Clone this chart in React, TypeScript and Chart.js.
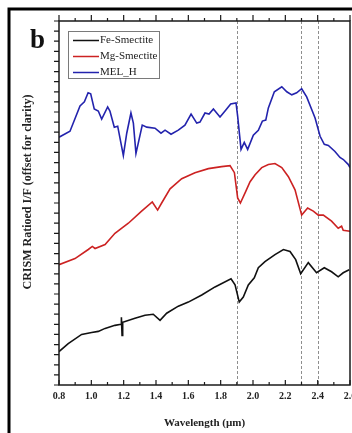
import { useEffect, useRef } from 'react';
import { Chart, registerables } from 'chart.js';

Chart.register(...registerables);

// Wavelength (µm), ratioed I/F (offset units)
const feSmectite: [number, number][] = [
  [0.80, 0.33], [0.857, 0.41], [0.94, 0.50], [1.002, 0.52], [1.043, 0.53], [1.085, 0.56],
  [1.146, 0.59], [1.184, 0.60], [1.186, 0.67], [1.190, 0.49], [1.194, 0.62], [1.27, 0.66],
  [1.332, 0.69], [1.383, 0.70], [1.425, 0.64], [1.466, 0.71], [1.538, 0.78], [1.60, 0.82],
  [1.683, 0.89], [1.765, 0.97], [1.864, 1.05], [1.889, 0.99], [1.915, 0.82], [1.94, 0.87],
  [1.971, 0.99], [2.008, 1.06], [2.033, 1.16], [2.074, 1.22], [2.136, 1.29], [2.188, 1.34],
  [2.229, 1.32], [2.264, 1.24], [2.295, 1.10], [2.342, 1.21], [2.393, 1.11], [2.441, 1.16],
  [2.486, 1.12], [2.527, 1.07], [2.558, 1.11], [2.595, 1.14],
];

const mgSmectite: [number, number][] = [
  [0.80, 1.19], [0.899, 1.25], [0.981, 1.34], [1.006, 1.37], [1.023, 1.35], [1.085, 1.39],
  [1.146, 1.50], [1.229, 1.60], [1.311, 1.72], [1.377, 1.81], [1.41, 1.73], [1.435, 1.80],
  [1.487, 1.94], [1.559, 2.04], [1.641, 2.10], [1.724, 2.14], [1.806, 2.16], [1.858, 2.17],
  [1.885, 2.10], [1.905, 1.85], [1.922, 1.80], [1.951, 1.90], [1.982, 2.01], [2.013, 2.08],
  [2.054, 2.15], [2.095, 2.18], [2.136, 2.19], [2.178, 2.15], [2.219, 2.06], [2.26, 1.93],
  [2.301, 1.68], [2.338, 1.75], [2.373, 1.72], [2.404, 1.68], [2.435, 1.68], [2.486, 1.62],
  [2.527, 1.55], [2.548, 1.57], [2.558, 1.53], [2.60, 1.52],
];

const melH: [number, number][] = [
  [0.80, 2.45], [0.868, 2.51], [0.93, 2.76], [0.957, 2.80], [0.98, 2.89], [0.996, 2.88],
  [1.018, 2.73], [1.043, 2.71], [1.064, 2.63], [1.101, 2.75], [1.115, 2.71], [1.142, 2.55],
  [1.163, 2.56], [1.198, 2.27], [1.219, 2.49], [1.245, 2.69], [1.26, 2.59], [1.276, 2.29],
  [1.29, 2.39], [1.315, 2.57], [1.343, 2.55], [1.394, 2.54], [1.431, 2.49], [1.456, 2.52],
  [1.493, 2.48], [1.538, 2.52], [1.579, 2.57], [1.617, 2.68], [1.652, 2.59], [1.672, 2.60],
  [1.703, 2.69], [1.728, 2.68], [1.755, 2.73], [1.796, 2.65], [1.827, 2.71], [1.862, 2.78],
  [1.895, 2.79], [1.905, 2.66], [1.926, 2.33], [1.946, 2.40], [1.967, 2.33], [2.002, 2.47],
  [2.033, 2.52], [2.058, 2.61], [2.079, 2.62], [2.095, 2.74], [2.132, 2.90], [2.178, 2.95],
  [2.209, 2.90], [2.24, 2.87], [2.27, 2.89], [2.301, 2.93], [2.332, 2.85], [2.384, 2.64],
  [2.415, 2.46], [2.441, 2.38], [2.466, 2.37], [2.507, 2.31], [2.538, 2.25], [2.559, 2.23],
  [2.59, 2.18], [2.60, 2.15],
];

const seriesNames = ['Fe-Smectite', 'Mg-Smectite', 'MEL_H'];
const seriesColors = ['#111111', '#cc2222', '#2323ad'];
const seriesData = [feSmectite, mgSmectite, melH];

const markerLines = [1.9, 2.3, 2.4];
const xMin = 0.8;
const xMax = 2.6;
const yMin = 0;
const yMax = 3.6;
const xTitle = 'Wavelength (µm)';
const yTitle = 'CRISM Ratioed I/F (offset for clarity)';
const panelLabel = 'b';

const SERIF = '"Liberation Serif", "DejaVu Serif", serif';

const decorPlugin = {
  id: 'decor',
  beforeDraw(chart: any) {
    const { ctx, width, height } = chart;
    ctx.save();
    ctx.fillStyle = '#ffffff';
    ctx.fillRect(0, 0, width, height);
    ctx.restore();
  },
  beforeDatasetsDraw(chart: any) {
    const { ctx, chartArea: a, scales } = chart;
    ctx.save();
    ctx.strokeStyle = '#8e8e8e';
    ctx.lineWidth = 1;
    ctx.setLineDash([3, 2]);
    for (const w of markerLines) {
      const px = Math.round(scales.x.getPixelForValue(w)) + 0.5;
      ctx.beginPath();
      ctx.moveTo(px, a.top);
      ctx.lineTo(px, a.bottom);
      ctx.stroke();
    }
    ctx.restore();
  },
  afterDatasetsDraw(chart: any) {
    const { ctx, chartArea: a, scales } = chart;
    ctx.save();
    ctx.strokeStyle = '#1a1a1a';
    ctx.lineWidth = 1.5;
    ctx.strokeRect(a.left, a.top, a.right - a.left, a.bottom - a.top);
    ctx.lineWidth = 1.2;
    ctx.beginPath();
    const nx = Math.round((xMax - xMin) / 0.1);
    for (let i = 0; i <= nx; i++) {
      const px = scales.x.getPixelForValue(xMin + i * 0.1);
      const major = i % 2 === 0;
      ctx.moveTo(px, a.bottom);
      ctx.lineTo(px, a.bottom - (major ? 5 : 3));
      ctx.moveTo(px, a.top);
      ctx.lineTo(px, a.top - (major ? 6 : 3));
    }
    const ny = Math.round((yMax - yMin) / 0.1);
    for (let j = 0; j <= ny; j++) {
      const py = scales.y.getPixelForValue(yMin + j * 0.1);
      ctx.moveTo(a.left, py);
      ctx.lineTo(a.left - 5, py);
    }
    ctx.stroke();
    ctx.restore();
  },
  afterDraw(chart: any) {
    const { ctx, width, height } = chart;
    ctx.save();
    // outer frame
    ctx.strokeStyle = '#000';
    ctx.lineWidth = 3;
    ctx.strokeRect(9, 9, width + 10, height + 10);
    // panel label
    ctx.fillStyle = '#111';
    ctx.font = `bold 27px ${SERIF}`;
    ctx.textBaseline = 'alphabetic';
    ctx.textAlign = 'left';
    ctx.fillText(panelLabel, 30, 48);
    // y title
    ctx.save();
    ctx.translate(28, 192);
    ctx.rotate(-Math.PI / 2);
    ctx.font = `bold 12px ${SERIF}`;
    ctx.textAlign = 'center';
    ctx.textBaseline = 'middle';
    ctx.fillStyle = '#222';
    ctx.fillText(yTitle, 0, 0);
    ctx.restore();
    // legend
    ctx.fillStyle = '#fff';
    ctx.fillRect(68.5, 31.5, 91, 47);
    ctx.strokeStyle = '#7a7a7a';
    ctx.lineWidth = 1;
    ctx.strokeRect(68.5, 31.5, 91, 47);
    chart.data.datasets.forEach((ds: any, i: number) => {
      const yy = 40.5 + i * 16;
      ctx.strokeStyle = ds.borderColor;
      ctx.lineWidth = 1.5;
      ctx.beginPath();
      ctx.moveTo(73, yy);
      ctx.lineTo(99, yy);
      ctx.stroke();
      ctx.fillStyle = '#222';
      ctx.font = `11px ${SERIF}`;
      ctx.textAlign = 'left';
      ctx.textBaseline = 'middle';
      ctx.fillText(ds.label, 100, yy);
    });
    ctx.restore();
  },
};

export default function App() {
  const canvasRef = useRef<HTMLCanvasElement | null>(null);

  useEffect(() => {
    document.body.style.margin = '0';
    const canvas = canvasRef.current;
    if (!canvas) return;
    const chart = new Chart(canvas, {
      type: 'line',
      data: {
        datasets: seriesData.map((pts, i) => ({
          label: seriesNames[i],
          data: pts.map(([x, y]) => ({ x, y })),
          borderColor: seriesColors[i],
          backgroundColor: seriesColors[i],
          borderWidth: 1.6,
          pointRadius: 0,
          tension: 0,
          fill: false,
        })),
      },
      options: {
        animation: false,
        responsive: false,
        devicePixelRatio: 1,
        layout: { padding: { top: 21, right: 2, left: 0, bottom: 0 } },
        plugins: {
          legend: { display: false },
          tooltip: { enabled: false },
        },
        scales: {
          x: {
            type: 'linear',
            min: xMin,
            max: xMax,
            grid: { display: false, drawTicks: false },
            border: { display: false },
            ticks: {
              stepSize: 0.1,
              autoSkip: false,
              maxRotation: 0,
              padding: 5,
              color: '#222',
              font: { family: SERIF, size: 10, weight: 'bold' },
              callback: (v: any) => (Math.round(Number(v) * 10) % 2 === 0 ? Number(v).toFixed(1) : ''),
            },
            title: {
              display: true,
              text: xTitle,
              color: '#222',
              font: { family: SERIF, size: 11, weight: 'bold' },
              padding: { top: 0, bottom: 3 },
            },
            afterFit: (s: any) => {
              s.height = 48;
              s.paddingLeft = 0;
              s.paddingRight = 0;
            },
          },
          y: {
            type: 'linear',
            min: yMin,
            max: yMax,
            grid: { display: false, drawTicks: false },
            border: { display: false },
            ticks: { display: false },
            afterFit: (s: any) => {
              s.width = 59;
              s.paddingTop = 0;
              s.paddingBottom = 0;
            },
          },
        },
      },
      plugins: [decorPlugin],
    } as any);
    return () => chart.destroy();
  }, []);

  return (
    <div style={{ width: 352, height: 433, position: 'relative' }}>
      <canvas ref={canvasRef} width={352} height={433} style={{ display: 'block' }} />
    </div>
  );
}
